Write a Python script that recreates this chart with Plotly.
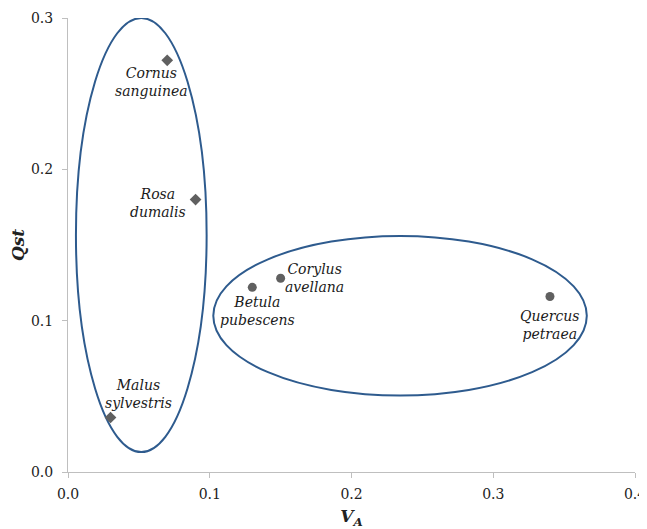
import plotly.graph_objects as go

species = ["Cornus<br>sanguinea", "Rosa<br>dumalis", "Malus<br>sylvestris",
           "Betula<br>pubescens", "Corylus<br>avellana", "Quercus<br>petraea"]
va = [0.07, 0.09, 0.03, 0.13, 0.15, 0.34]
qst = [0.272, 0.18, 0.036, 0.122, 0.128, 0.116]
group = ["shrub", "shrub", "shrub", "tree", "tree", "tree"]

label_shift_x = [-16, -38, 28, 5, 34, 0]
label_shift_y = [-22, -3, 24, -24, 0, -29]

# ellipse bounding boxes in data units (x0, x1, y0, y1)
ell_x0 = [0.0056, 0.1025]
ell_x1 = [0.0978, 0.366]
ell_y0 = [0.0132, 0.0505]
ell_y1 = [0.300, 0.156]

x_ticks = [0.0, 0.1, 0.2, 0.3, 0.4]
y_ticks = [0.0, 0.1, 0.2, 0.3]

serif = "DejaVu Serif"
mark_col = "#606060"

fig = go.Figure()
for g, sym, size in [("shrub", "diamond", 9), ("tree", "circle", 9)]:
    idx = [i for i, gg in enumerate(group) if gg == g]
    fig.add_trace(go.Scatter(
        x=[va[i] for i in idx], y=[qst[i] for i in idx], mode="markers",
        marker=dict(symbol=sym, size=size, color=mark_col),
        showlegend=False, hoverinfo="skip"))

for i in range(2):
    fig.add_shape(type="circle", xref="x", yref="y",
                  x0=ell_x0[i], x1=ell_x1[i], y0=ell_y0[i], y1=ell_y1[i],
                  line=dict(color="#2E5B8E", width=2), layer="below")

for i, s in enumerate(species):
    fig.add_annotation(x=va[i], y=qst[i], text="<i>" + s + "</i>",
                       showarrow=False, xanchor="center", yanchor="middle",
                       xshift=label_shift_x[i], yshift=label_shift_y[i],
                       font=dict(family=serif, size=14, color="#1a1a1a"))

axis_common = dict(showline=True, linecolor="#BFBFBF", linewidth=1,
                   showgrid=False, zeroline=False, ticks="outside",
                   ticklen=5, tickcolor="#BFBFBF",
                   tickfont=dict(family=serif, size=14, color="#222222"))

fig.update_xaxes(range=[0, 0.4], tickvals=x_ticks,
                 ticktext=[f"{v:.1f}" for v in x_ticks],
                 ticklabelstandoff=4, ticklabeloverflow="allow",
                 title=dict(text="<b><i>V<sub>A</sub></i></b>", standoff=10,
                            font=dict(family=serif, size=17, color="#222222")),
                 **axis_common)
fig.update_yaxes(range=[0, 0.3], tickvals=y_ticks,
                 ticktext=[f"{v:.1f}" for v in y_ticks],
                 ticklabelstandoff=6,
                 title=dict(text="<b><i>Qst</i></b>", standoff=12,
                            font=dict(family=serif, size=17, color="#222222")),
                 **axis_common)

fig.update_layout(width=639, height=521, plot_bgcolor="white",
                  paper_bgcolor="white", font=dict(family=serif),
                  margin=dict(l=60, r=12, t=10, b=57, autoexpand=False))

fig.write_html("out.html")
